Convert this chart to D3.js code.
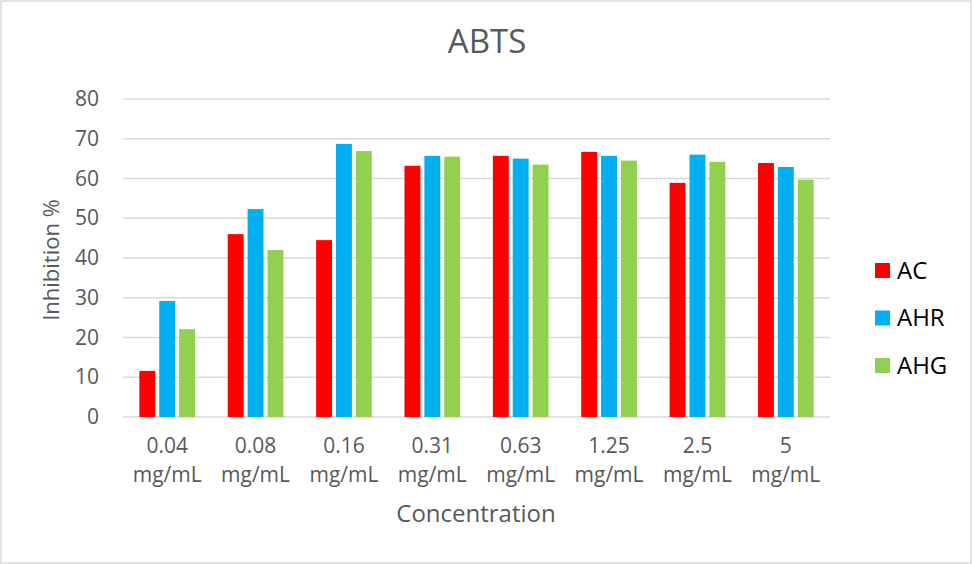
<!DOCTYPE html>
<html><head><meta charset="utf-8">
<script src="https://cdn.jsdelivr.net/npm/d3@7"></script>
<style>body{margin:0;background:#fff;}svg{display:block;}</style>
</head><body>
<script>
const categories = ["0.04 mg/mL","0.08 mg/mL","0.16 mg/mL","0.31 mg/mL","0.63 mg/mL","1.25 mg/mL","2.5 mg/mL","5 mg/mL"];
const seriesNames = ["AC","AHR","AHG"];
const AC  = [11.6, 46.0, 44.5, 63.2, 65.7, 66.7, 58.9, 63.9];
const AHR = [29.2, 52.3, 68.7, 65.7, 65.0, 65.7, 66.0, 62.9];
const AHG = [22.1, 42.0, 66.9, 65.5, 63.5, 64.5, 64.2, 59.7];
const yTicks = [0,10,20,30,40,50,60,70,80];
const colors = ["#FF0000","#00B0F0","#92D050"];
const seriesValues = [AC, AHR, AHG];

const W = 974, H = 564;
const svg = d3.select("body").append("svg").attr("width", W).attr("height", H);
svg.append("rect").attr("x",1).attr("y",1).attr("width",W-4).attr("height",H-2)
  .attr("fill","#fff").attr("stroke","#d9d9d9").attr("stroke-width",1.5);

const font = "'Open Sans', sans-serif";
const x0 = d3.scaleBand().domain(categories).range([123, 830]).paddingInner(0.37).paddingOuter(0.185);
const x1 = d3.scaleBand().domain(seriesNames).range([0, x0.bandwidth()]).paddingInner(0.2);
const y = d3.scaleLinear().domain([0, 80]).range([417, 99]);

// gridlines
svg.append("g").selectAll("line").data(yTicks).join("line")
  .attr("x1",123).attr("x2",830).attr("y1",d=>y(d)).attr("y2",d=>y(d))
  .attr("stroke","#d9d9d9").attr("stroke-width",1.5);

// y tick labels
const yAxis = svg.append("g").attr("transform","translate(123,0)")
  .call(d3.axisLeft(y).tickValues(yTicks).tickSize(0).tickPadding(24));
yAxis.select(".domain").remove();
yAxis.selectAll("text").attr("font-family",font).attr("font-size",21).attr("fill","#595959");

// bars
const groups = svg.append("g").selectAll("g").data(categories).join("g")
  .attr("transform", d => `translate(${x0(d)},0)`);
groups.selectAll("rect").data((d,i) => seriesNames.map((s,j) => ({s, v: seriesValues[j][i], c: colors[j]})))
  .join("rect")
  .attr("x", d => x1(d.s)).attr("width", x1.bandwidth())
  .attr("y", d => y(d.v)).attr("height", d => y(0) - y(d.v))
  .attr("fill", d => d.c);

// x labels
const xl = svg.append("g").selectAll("text").data(categories).join("text")
  .attr("x", d => x0(d) + x0.bandwidth()/2)
  .attr("text-anchor","middle").attr("font-family",font).attr("font-size",21).attr("fill","#595959");
xl.append("tspan").attr("x", d => x0(d) + x0.bandwidth()/2).attr("y",453).text(d => d.split(" ")[0]);
xl.append("tspan").attr("x", d => x0(d) + x0.bandwidth()/2).attr("y",482).text(d => d.split(" ")[1]);

// title
svg.append("text").attr("x",487).attr("y",53).attr("text-anchor","middle")
  .attr("font-family",font).attr("font-size",33).attr("fill","#595959").text("ABTS");
// axis titles
svg.append("text").attr("x",476).attr("y",522).attr("text-anchor","middle")
  .attr("font-family",font).attr("font-size",24).attr("fill","#595959").text("Concentration");
svg.append("text").attr("transform","translate(59,260) rotate(-90)").attr("text-anchor","middle")
  .attr("font-family",font).attr("font-size",22).attr("fill","#595959").text("Inhibition %");

// legend
const lg = svg.append("g").selectAll("g").data(seriesNames).join("g")
  .attr("transform",(d,i)=>`translate(875,${270.5 + i*47.5})`);
lg.append("rect").attr("x",0).attr("y",-7.5).attr("width",15).attr("height",15).attr("fill",(d,i)=>colors[i]);
lg.append("text").attr("x",22).attr("y",8).attr("font-family",font).attr("font-size",24).attr("fill","#000").text(d=>d);
</script>
</body></html>
